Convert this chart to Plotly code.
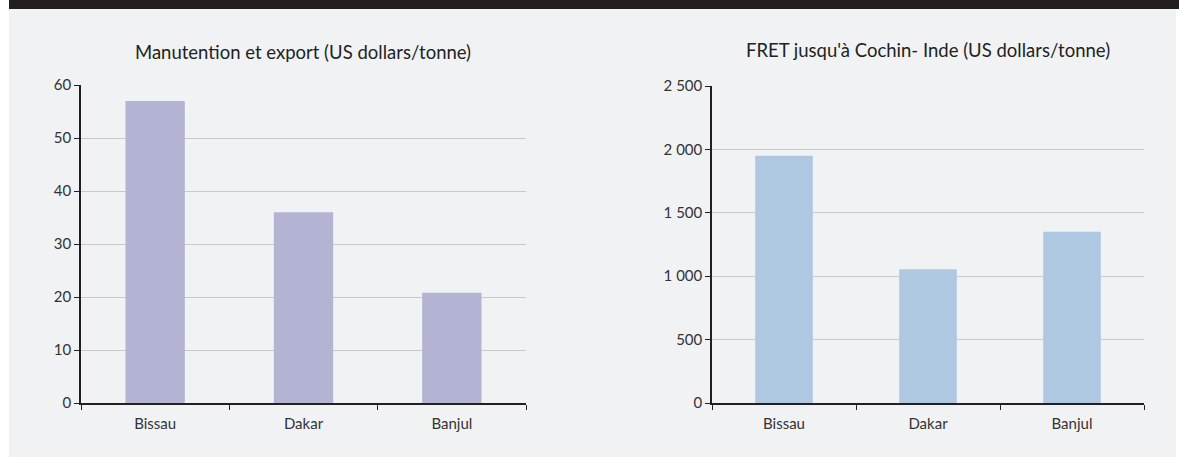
import plotly.graph_objects as go

W, H = 1179, 457

categories = ["Bissau", "Dakar", "Banjul"]
handling_values = [57, 36, 20.8]
freight_values = [1950, 1055, 1350]
title_left = "Manutention et export (US dollars/tonne)"
title_right = "FRET jusqu'à Cochin- Inde (US dollars/tonne)"

bg = "#f1f2f4"
axis_col = "#231f20"
grid_col = "rgba(120,120,130,0.35)"
font_fam = "Lato, Open Sans, sans-serif"

def px_x(p):
    return p / W

def px_y(p):
    return 1 - p / H

fig = go.Figure()
fig.add_trace(go.Bar(x=categories, y=handling_values, marker=dict(color="#b3b4d4", line=dict(width=0)),
                     xaxis="x", yaxis="y", hoverinfo="x+y"))
fig.add_trace(go.Bar(x=categories, y=freight_values, marker=dict(color="#adc8e0", line=dict(width=0)),
                     xaxis="x2", yaxis="y2", hoverinfo="x+y"))

common_x = dict(type="category", showgrid=False, showline=True, linecolor=axis_col, linewidth=1.5,
                ticks="outside", tickson="boundaries", ticklen=5, tickcolor=axis_col, tickwidth=1.2,
                tickfont=dict(size=15, color="#333333", family=font_fam), fixedrange=True,
                automargin=False, ticklabelstandoff=6)
common_y = dict(showgrid=True, gridcolor=grid_col, gridwidth=1, showline=True, linecolor=axis_col,
                linewidth=1.5, ticks="outside", ticklen=5, tickcolor=axis_col, tickwidth=1.2,
                tickfont=dict(size=15, color="#333333", family=font_fam), zeroline=False,
                layer="above traces", fixedrange=True, automargin=False)

fig.update_layout(
    width=W, height=H,
    margin=dict(l=0, r=0, t=0, b=0, pad=0, autoexpand=False),
    paper_bgcolor="white",
    plot_bgcolor=bg,
    showlegend=False,
    bargap=0.6,
    separators=". ",
    font=dict(family=font_fam, color="#333333"),
    xaxis=dict(domain=[px_x(81), px_x(526)], anchor="y", **common_x),
    yaxis=dict(domain=[px_y(403), px_y(85)], anchor="x", range=[0, 60], dtick=10, **common_y),
    xaxis2=dict(domain=[px_x(712), px_x(1144)], anchor="y2", **common_x),
    yaxis2=dict(domain=[px_y(403), px_y(86)], anchor="x2", range=[0, 2500], dtick=500,
                separatethousands=True, **common_y),
    shapes=[
        dict(type="rect", xref="paper", yref="paper", x0=px_x(9), x1=px_x(1176), y0=0, y1=1,
             fillcolor=bg, line=dict(width=0), layer="below"),
        dict(type="rect", xref="paper", yref="paper", x0=px_x(9), x1=1, y0=px_y(9), y1=1,
             fillcolor="#231f20", line=dict(width=0), layer="below"),
    ],
    annotations=[
        dict(text=title_left, xref="paper", yref="paper", x=px_x(303), y=px_y(52),
             xanchor="center", yanchor="middle", showarrow=False,
             font=dict(size=18.5, color="#222222", family=font_fam)),
        dict(text=title_right, xref="paper", yref="paper", x=px_x(928), y=px_y(50),
             xanchor="center", yanchor="middle", showarrow=False,
             font=dict(size=18.5, color="#222222", family=font_fam)),
    ],
)

fig.write_html("out.html", config={"displayModeBar": False},
               post_script="document.body.style.margin='0';document.body.style.overflow='hidden';")
